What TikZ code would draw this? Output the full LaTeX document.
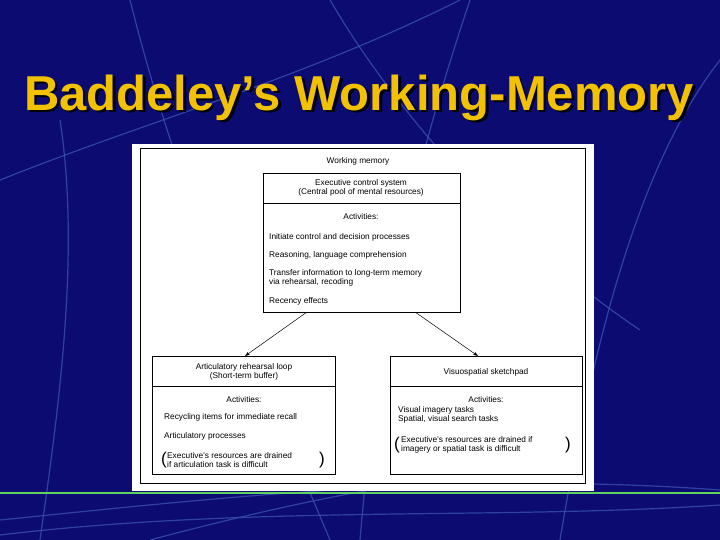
\documentclass[tikz,border=0pt]{standalone}
\usepackage{fontspec}
\setmainfont{Liberation Sans}
\usetikzlibrary{arrows.meta}
\definecolor{bg}{HTML}{0B0B72}
\definecolor{streak}{HTML}{3A4FB0}
\definecolor{ttl}{HTML}{F2C200}
\begin{document}
\begin{tikzpicture}[x=1pt,y=-1pt,
  txt/.style={font=\fontsize{8.3}{9.6}\selectfont,inner sep=0pt},
  lft/.style={txt,anchor=west},
  box/.style={draw,line width=0.6pt},
  arr/.style={-{Stealth[length=5pt,width=3.5pt]},line width=0.5pt}]
\useasboundingbox (0,0) rectangle (720,540);
\fill[bg] (0,0) rectangle (720,540);
% background streaks
\begin{scope}[streak,line width=1.2pt,opacity=0.8]
\draw (130,0) .. controls (180,200) and (250,350) .. (330,540);
\draw (330,0) .. controls (400,120) and (520,250) .. (640,330);
\draw (470,0) .. controls (420,150) and (380,300) .. (360,540);
\draw (720,60) .. controls (650,150) and (600,300) .. (560,540);
\draw (0,180) .. controls (150,120) and (300,80) .. (460,0);
\draw (40,540) .. controls (60,400) and (80,250) .. (60,120);
\draw (0,520) .. controls (200,500) and (450,470) .. (720,490);
\draw (0,535) .. controls (250,505) and (500,520) .. (720,505);
\draw (150,540) .. controls (300,500) and (450,470) .. (560,470);
\end{scope}
\draw[green!55!gray!80!white,line width=1.5pt] (0,493) -- (720,493);
% title
\node[text=ttl,font=\fontsize{49}{50}\selectfont\bfseries,inner sep=0pt] (title) at (359,99) {\makebox[0pt][l]{\hspace{2.5pt}\raisebox{-2.5pt}{\color{black}Baddeley’s Working-Memory}}Baddeley’s Working-Memory};
% white panel
\fill[white] (132,144) rectangle (594,491);
\draw[line width=0.5pt] (140,148) rectangle (585,483);
\node[txt] (wm) at (358,161) {Working memory};
% executive box
\draw[box] (263,173) rectangle (460,312);
\draw[box] (263,203) -- (460,203);
\coordinate (exL) at (307,312);
\coordinate (exR) at (415,312);
\node[txt,align=center] (ex) at (361,188) {Executive control system\\(Central pool of mental resources)};
\node[txt] (exa) at (361,217) {Activities:};
\node[lft] (e1) at (269,237) {Initiate control and decision processes};
\node[lft] (e2) at (269,255) {Reasoning, language comprehension};
\node[lft,align=left] (e3) at (269,278) {Transfer information to long-term memory\\via rehearsal, recoding};
\node[lft] (e4) at (269,301) {Recency effects};
% left box
\draw[box] (152,356) rectangle (335,474);
\draw[box] (152,386) -- (335,386);
\coordinate (lt) at (245,356);
\node[txt,align=center] (al) at (244,372) {Articulatory rehearsal loop\\(Short-term buffer)};
\node[txt] (la) at (244,400) {Activities:};
\node[lft] (l1) at (164,417) {Recycling items for immediate recall};
\node[lft] (l2) at (164,436) {Articulatory processes};
\node[lft,align=left] (l3) at (167,460) {Executive’s resources are drained\\if articulation task is difficult};
\node[txt,font=\fontsize{17}{17}\selectfont] (lp1) at (164,460) {(};
\node[txt,font=\fontsize{17}{17}\selectfont] (lp2) at (322,460) {)};
% right box
\draw[box] (390,356) rectangle (582,474);
\draw[box] (390,386) -- (582,386);
\coordinate (rt) at (478,356);
\node[txt] (vs) at (486,372) {Visuospatial sketchpad};
\node[txt] (ra) at (486,400) {Activities:};
\node[lft,align=left] (r1) at (398,415) {Visual imagery tasks\\Spatial, visual search tasks};
\node[lft,align=left] (r3) at (401,445) {Executive’s resources are drained if\\imagery or spatial task is difficult};
\node[txt,font=\fontsize{17}{17}\selectfont] (rp1) at (397,445) {(};
\node[txt,font=\fontsize{17}{17}\selectfont] (rp2) at (568,445) {)};
% arrows
\draw[arr] (exL) -- (lt);
\draw[arr] (exR) -- (rt);
\end{tikzpicture}
\end{document}
